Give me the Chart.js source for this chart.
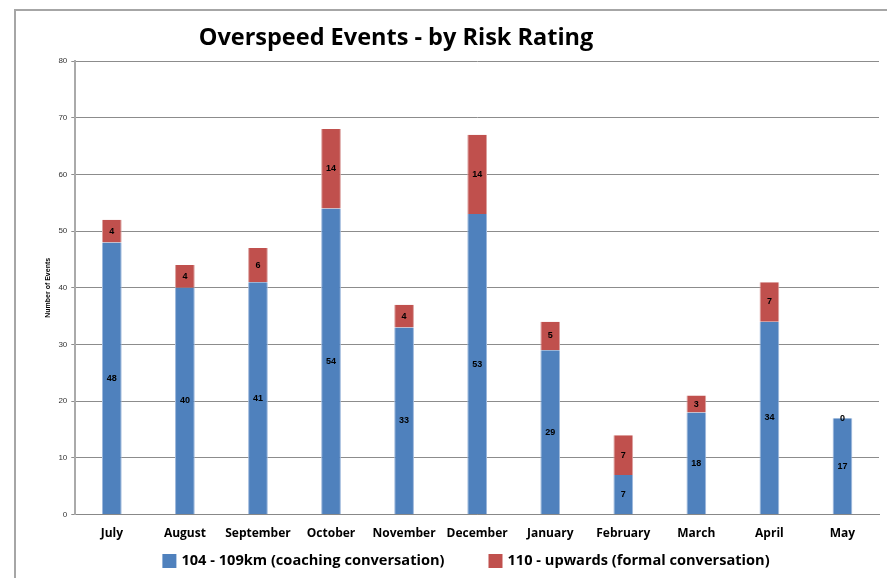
<!DOCTYPE html>
<html>
<head>
<meta charset="utf-8">
<script src="https://cdn.jsdelivr.net/npm/chart.js@4"></script>
<style>
  body { margin: 0; background: #fff; }
  #frame { position: absolute; left: 14px; top: 9px; width: 900px; height: 600px; border: 2px solid #a6a6a6; }
  #wrap { position: absolute; left: 0; top: 0; width: 887px; height: 578px; }
</style>
</head>
<body>
<div id="frame"></div>
<div id="wrap"><canvas id="myChart"></canvas></div>
<script>
const months = ['July', 'August', 'September', 'October', 'November', 'December',
    'January', 'February', 'March', 'April', 'May'];
const coaching = [48, 40, 41, 54, 33, 53, 29, 7, 18, 34, 17];
const formal = [4, 4, 6, 14, 4, 14, 5, 7, 3, 7, 0];
const yTicks = [0, 10, 20, 30, 40, 50, 60, 70, 80];

// value labels in the middle of each segment
const barLabels = {
    id: 'barLabels',
    afterDatasetsDraw(chart) {
        const ctx = chart.ctx;
        ctx.save();
        ctx.font = 'bold 9px "Liberation Sans", Arial, sans-serif';
        ctx.fillStyle = '#000';
        ctx.textAlign = 'center';
        ctx.textBaseline = 'middle';
        chart.data.datasets.forEach((ds, i) => {
            chart.getDatasetMeta(i).data.forEach((el, j) => {
                ctx.fillText(ds.data[j], el.x, (el.y + el.base) / 2);
            });
        });
        ctx.restore();
    }
};

// title sits left of centre like the original
const topTitle = {
    id: 'topTitle',
    afterDraw(chart) {
        const ctx = chart.ctx;
        ctx.save();
        ctx.font = 'bold 23.5px "Open Sans", Calibri, sans-serif';
        ctx.fillStyle = '#000';
        ctx.textAlign = 'center';
        ctx.textBaseline = 'middle';
        ctx.fillText('Overspeed Events - by Risk Rating', 396, 38);
        ctx.restore();
    }
};

// legend with wide gap between the two entries
const bottomLegend = {
    id: 'bottomLegend',
    afterDraw(chart) {
        const ctx = chart.ctx;
        const ds = chart.data.datasets;
        ctx.save();
        ctx.font = 'bold 14.6px "Open Sans", Calibri, sans-serif';
        ctx.textBaseline = 'middle';
        ctx.textAlign = 'left';
        const box = 14, gap = 5, between = 44;
        const widths = ds.map(d => ctx.measureText(d.label).width);
        let total = widths.reduce((a, w) => a + box + gap + w, 0) + between * (ds.length - 1);
        let x = 466 - total / 2;
        const y = 561;
        ds.forEach((d, i) => {
            ctx.fillStyle = d.backgroundColor;
            ctx.fillRect(x, y - box / 2, box, box);
            ctx.fillStyle = '#000';
            ctx.fillText(d.label, x + box + gap, y);
            x += box + gap + widths[i] + between;
        });
        ctx.restore();
    }
};

new Chart(document.getElementById('myChart'), {
    type: 'bar',
    data: {
        labels: months,
        datasets: [
            {
                label: '104 - 109km (coaching conversation)',
                backgroundColor: '#4F81BD',
                borderColor: '#9db8dc',
                borderWidth: { left: 1, right: 1 },
                data: coaching
            },
            {
                label: '110 - upwards (formal conversation)',
                backgroundColor: '#C0504D',
                borderColor: '#dca2a0',
                borderWidth: { left: 1, right: 1 },
                data: formal
            }
        ]
    },
    options: {
        responsive: true,
        maintainAspectRatio: false,
        animation: false,
        barPercentage: 0.27,
        categoryPercentage: 1,
        layout: { padding: { left: 42, right: 8, top: 61, bottom: 33 } },
        plugins: {
            tooltip: { enabled: false },
            legend: { display: false }
        },
        scales: {
            x: {
                stacked: true,
                grid: { display: false },
                border: { color: '#888', width: 1 },
                ticks: {
                    color: '#000',
                    font: { family: '"Open Sans", Calibri, sans-serif', size: 12, weight: 'bold' },
                    padding: 4,
                    maxRotation: 0
                }
            },
            y: {
                stacked: true,
                min: 0,
                max: 80,
                afterBuildTicks(axis) {
                    axis.ticks = yTicks.map(v => ({ value: v }));
                },
                grid: { color: '#8c8c8c', lineWidth: 1, tickLength: 4 },
                border: { color: '#aaa', width: 2 },
                ticks: {
                    color: '#333',
                    font: { family: '"Liberation Sans", Arial, sans-serif', size: 8 },
                    padding: 4
                },
                title: {
                    display: true,
                    text: 'Number of Events',
                    color: '#000',
                    font: { family: '"Liberation Sans", Arial, sans-serif', size: 7, weight: 'bold' },
                    padding: 2
                }
            }
        }
    },
    plugins: [barLabels, topTitle, bottomLegend]
});
</script>
</body>
</html>
